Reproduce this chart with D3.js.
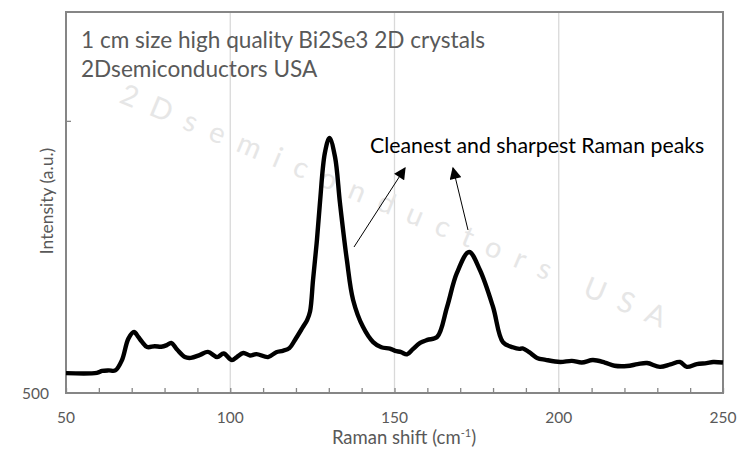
<!DOCTYPE html>
<html><head><meta charset="utf-8">
<script src="https://cdn.jsdelivr.net/npm/d3@7"></script>
<style>body{margin:0;background:#fff}svg{display:block}</style>
</head><body>
<svg id="c" width="750" height="449"></svg>
<script>
// Raman shift (cm-1) and intensity (a.u.)
const ramanShift = [50,59.4,61,63,65,67,69,70.7,72,73,74.7,77,79,80.7,82,83.8,86.2,88,90.8,93.2,96,98,100.5,102,104,106,108,111.5,114,116,118,119.7,122,123.4,124.3,125.2,126.3,127.3,128.8,130.2,131.9,133.4,135.5,137.4,140.4,143.5,146,148.6,150.2,152,153.8,155.5,157.8,160,163,166,169,172.7,176,180,183,186,188,189,191,193.4,196,200.4,204,207,210.4,214,217,220.8,224,226.9,230.8,234,236.9,239,242,245,247,250];
const intensity  = [573,574,581,583,583,620,700,724,706,690,669,672,670,676,684,660,632,629,640,651,632,645,621,632,647,638,643,632,650,655,665,695,740,768,800,915,1050,1198,1382,1437,1367,1198,989,842,743,687,668,663,655,650,642,660,684,695,706,816,941,1018,952,816,687,668,662,664,650,629,622,614,618,612,621,612,600,599,606,610,596,605,614,596,606,610,614,612];
const xTicks = [50,100,150,200,250];
const yTickLabels = ["500"];
const xDomain = [50,250];
const yDomain = [500,1900];

const svg = d3.select("#c");
const m = {l:66,r:723,t:12,b:393};
const x = d3.scaleLinear().domain(xDomain).range([m.l,m.r]);
const y = d3.scaleLinear().domain(yDomain).range([m.b,m.t]);
const txtCol = "#595959", axCol = "#868686";
const font = "Lato, 'Open Sans', sans-serif";

// gridlines
svg.append("g").selectAll("line").data(xTicks.slice(1,-1)).join("line")
  .attr("x1",d=>x(d)).attr("x2",d=>x(d)).attr("y1",m.t).attr("y2",m.b)
  .attr("stroke","#d9d9d9").attr("stroke-width",1.3);

// watermark
svg.append("text").attr("transform","translate(118,102) rotate(22.6)")
  .attr("font-family",font).attr("font-size",29).attr("fill","#e6e6e6")
  .attr("letter-spacing",15).text("2Dsemiconductors USA");

// frame
svg.append("rect").attr("x",m.l).attr("y",m.t).attr("width",m.r-m.l).attr("height",m.b-m.t)
  .attr("fill","none").attr("stroke",axCol).attr("stroke-width",2);

// x axis
const xa = svg.append("g").attr("transform",`translate(0,${m.b})`)
  .call(d3.axisBottom(x).tickValues(d3.range(50,251,10)).tickSize(-5).tickFormat(""));
xa.select(".domain").remove();
xa.selectAll("line").attr("stroke",axCol).attr("stroke-width",1.3);
svg.append("g").selectAll("text").data(xTicks).join("text")
  .attr("x",d=>x(d)).attr("y",423).attr("text-anchor","middle")
  .attr("font-family",font).attr("font-size",15.5).attr("fill",txtCol).text(d=>d);

// y axis
const ya = svg.append("g").attr("transform",`translate(${m.l},0)`)
  .call(d3.axisLeft(y).tickValues([1500]).tickSize(-5).tickFormat(""));
ya.select(".domain").remove();
ya.selectAll("line").attr("stroke",axCol).attr("stroke-width",1.3);
svg.append("text").attr("x",49).attr("y",399).attr("text-anchor","end")
  .attr("font-family",font).attr("font-size",15.5).attr("fill",txtCol).text(yTickLabels[0]);

// axis titles
const xt = svg.append("text").attr("x",404).attr("y",444).attr("text-anchor","middle")
  .attr("font-family",font).attr("font-size",18.5).attr("fill",txtCol);
xt.append("tspan").text("Raman shift (cm");
xt.append("tspan").attr("font-size",11).attr("dy",-7).text("-1");
xt.append("tspan").attr("dy",7).text(")");
svg.append("text").attr("transform","translate(53,201) rotate(-90)").attr("text-anchor","middle")
  .attr("font-family",font).attr("font-size",17.5).attr("fill",txtCol).text("Intensity (a.u.)");

// line
const line = d3.line().x((d,i)=>x(ramanShift[i])).y(d=>y(d)).curve(d3.curveCatmullRom);
svg.append("path").datum(intensity).attr("d",line).attr("fill","none")
  .attr("stroke","#000").attr("stroke-width",4.4).attr("stroke-linejoin","round");

// titles
svg.append("text").attr("x",81).attr("y",48).attr("font-family",font).attr("font-size",22.6)
  .attr("fill",txtCol).text("1 cm size high quality Bi2Se3 2D crystals");
svg.append("text").attr("x",81).attr("y",77).attr("font-family",font).attr("font-size",22.6)
  .attr("fill",txtCol).text("2Dsemiconductors USA");
svg.append("text").attr("x",370).attr("y",153).attr("font-family",font).attr("font-size",21.3)
  .attr("fill","#000").text("Cleanest and sharpest Raman peaks");

// arrows
svg.append("defs").append("marker").attr("id","ah").attr("viewBox","0 0 10 10")
  .attr("refX",9).attr("refY",5).attr("markerWidth",13).attr("markerHeight",12)
  .attr("markerUnits","userSpaceOnUse").attr("orient","auto")
  .append("path").attr("d","M0,0L10,5L0,10z").attr("fill","#000");
[[354,247,405,168],[468,230,453,168]].forEach(a=>{
  svg.append("line").attr("x1",a[0]).attr("y1",a[1]).attr("x2",a[2]).attr("y2",a[3])
    .attr("stroke","#000").attr("stroke-width",1).attr("marker-end","url(#ah)");
});
</script>
</body></html>
